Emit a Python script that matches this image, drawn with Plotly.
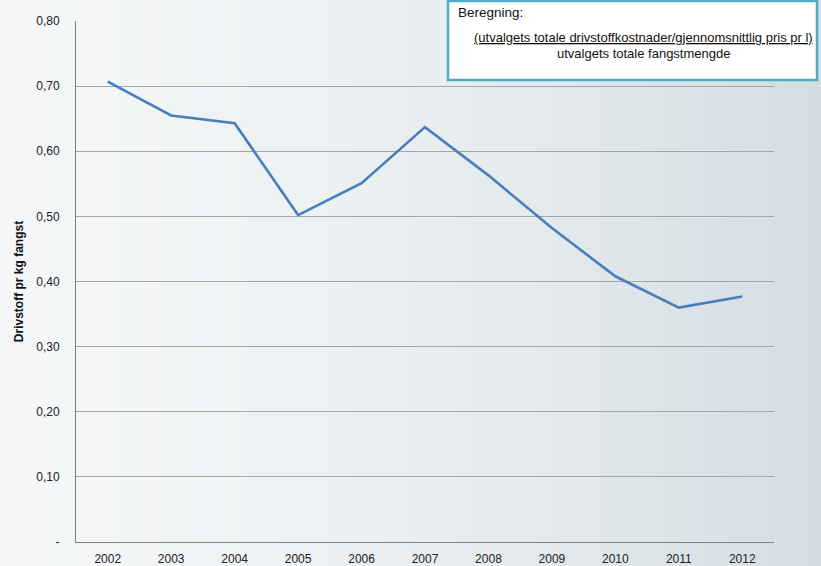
import plotly.graph_objects as go

years = ["2002", "2003", "2004", "2005", "2006", "2007", "2008", "2009", "2010", "2011", "2012"]
values = [0.707, 0.655, 0.643, 0.502, 0.551, 0.637, 0.563, 0.482, 0.408, 0.360, 0.377]
tick_vals = [0, 0.1, 0.2, 0.3, 0.4, 0.5, 0.6, 0.7, 0.8]
tick_text = ["-", "0,10", "0,20", "0,30", "0,40", "0,50", "0,60", "0,70", "0,80"]

fig = go.Figure()
fig.add_trace(go.Scatter(
    x=years, y=values, mode="lines",
    line=dict(color="#4a7ebb", width=2.6),
    showlegend=False, hoverinfo="x+y",
))

# background gradient (left light -> right bluish gray)
shapes = []
n = 40
c0 = (244, 246, 247)
c1 = (211, 221, 227)
for i in range(n):
    t = i / (n - 1)
    w = t ** 1.6
    col = tuple(round(c0[k] + (c1[k] - c0[k]) * w) for k in range(3))
    shapes.append(dict(
        type="rect", xref="paper", yref="paper", layer="below",
        x0=-0.12 + i * 1.2 / n, x1=-0.12 + (i + 1) * 1.2 / n + 0.002,
        y0=-0.1, y1=1.1, line=dict(width=0),
        fillcolor="rgb(%d,%d,%d)" % col,
    ))

# info box
W, H = 821, 566
L, R, T, B = 76, 47, 21, 24
pw, ph = W - L - R, H - T - B
def px(x):
    return (x - L) / pw
def py(y):
    return (H - B - y) / ph
shapes.append(dict(
    type="rect", xref="paper", yref="paper", layer="above",
    x0=px(448), x1=px(817), y0=py(80), y1=py(1),
    fillcolor="white", line=dict(color="#4bacc6", width=2.5),
))

fig.update_layout(
    width=W, height=H,
    margin=dict(l=L, r=R, t=T, b=B, autoexpand=False),
    paper_bgcolor="#f1f3f5",
    plot_bgcolor="rgba(0,0,0,0)",
    font=dict(family="Liberation Sans, Arial, sans-serif", size=12, color="#222"),
    shapes=shapes,
    xaxis=dict(
        type="category", range=[-0.5, 10.5], automargin=False,
        showgrid=False, showline=True, linecolor="#808080", linewidth=1,
        ticks="", tickfont=dict(size=12, color="#222"), ticklabelstandoff=6,
        fixedrange=True,
    ),
    yaxis=dict(
        range=[0, 0.8], tickvals=tick_vals, ticktext=tick_text, automargin=False,
        showgrid=True, gridcolor="#a6a6a6", gridwidth=1,
        showline=True, linecolor="#808080", linewidth=1,
        ticks="", tickfont=dict(size=12, color="#222"), ticklabelstandoff=13,
        zeroline=False,
        title=dict(text="<b>Drivstoff pr kg fangst</b>", font=dict(size=12, color="#111"), standoff=10),
        fixedrange=True,
    ),
    annotations=[
        dict(xref="paper", yref="paper", x=px(456), y=py(3), xanchor="left", yanchor="top",
             text="Beregning:", showarrow=False, font=dict(size=13.5, color="#111")),
        dict(xref="paper", yref="paper", x=px(643), y=py(28), xanchor="center", yanchor="top",
             text="<u>(utvalgets totale drivstoffkostnader/gjennomsnittlig pris pr l)</u>",
             showarrow=False, font=dict(size=13, color="#111")),
        dict(xref="paper", yref="paper", x=px(643), y=py(44), xanchor="center", yanchor="top",
             text="utvalgets totale fangstmengde",
             showarrow=False, font=dict(size=13, color="#111")),
    ],
)

fig.write_html("out.html", config={"displayModeBar": False},
               post_script="document.body.style.margin='0';")
